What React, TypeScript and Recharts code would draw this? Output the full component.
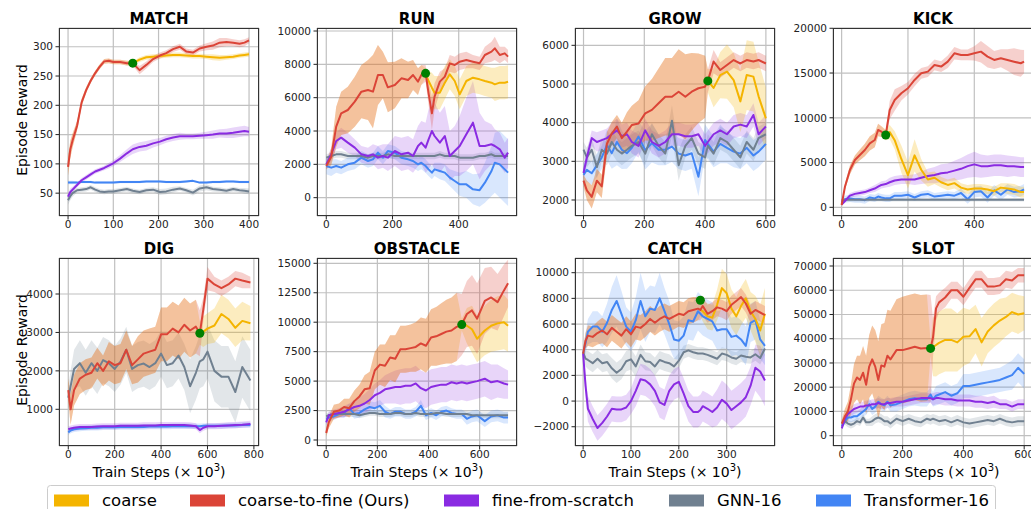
import React from "react";
import { ComposedChart, Line, Area, XAxis, YAxis, CartesianGrid, ReferenceDot } from "recharts";

const C_COARSE = "#F4B400";
const C_C2F = "#DB4437";
const C_FFS = "#8A2BE2";
const C_GNN = "#708090";
const C_TF = "#4285F4";
const C_SWITCH = "#008000";

const SERIES_NAMES = ["coarse", "coarse-to-fine (Ours)", "fine-from-scratch", "GNN-16", "Transformer-16"];
const SERIES_COLORS = [C_COARSE, C_C2F, C_FFS, C_GNN, C_TF];
const X_LABEL = "Train Steps (\u00d7 10";
const Y_LABEL = "Episode Reward";

// ---------------- MATCH ----------------
const MATCH_X = [0,5,10,20,30,40,50,60,70,80,90,100,115,130,143,158,173,188,203,217,232,247,261,276,291,306,320,335,350,365,379,390,400];
const MATCH_C2F = [95,125,140,165,205,226,242,255,266,275,276,274,274,272,272,260,269,279,285,289,296,300,292,290,297,300,302,307,308,307,305,307,311];
const MATCH_C2F_SD = [15,15,12,8,6,5,4,4,4,4,4,4,4,4,4,7,6,5,5,5,5,5,5,5,5,6,7,8,7,6,6,6,5];
const MATCH_COARSE = [272,278,282,283,284,285,286,286,285,284,284,283,282,281,282,283,285,286,287];
const MATCH_COARSE_SD = [3,4,4,4,4,4,4,4,4,4,4,4,5,5,4,4,4,4,4];
const MATCH_FFS = [44,52,56,64,72,77,82,87,90,93,97,101,109,118,125,129,131,135,138,142,145,147,147,147,148,149,150,152,152,153,155,156,155];
const MATCH_FFS_SD = [6,6,5,4,4,4,4,4,4,4,5,5,6,7,8,8,8,7,6,6,6,6,5,5,5,6,7,7,8,9,9,9,8];
const MATCH_GNN = [38,45,50,55,56,57,60,56,53,52,53,53,55,57,54,52,55,56,52,53,56,58,55,51,58,60,57,56,54,57,55,54,53];
const MATCH_GNN_SD = [8,7,6,4,4,4,4,4,4,4,4,4,4,4,4,4,4,4,5,5,5,4,4,5,5,5,4,4,4,4,4,5,5];
const MATCH_TF = [68,68,68,68,69,69,69,68,68,68,68,68,69,69,69,69,70,70,70,69,69,69,70,71,68,68,69,69,70,70,69,69,69];
const MATCH_TF_SD = [3,3,3,2,2,2,2,2,2,2,2,2,2,2,2,2,2,2,2,2,2,2,2,2,2,2,2,2,2,2,2,2,2];
const MATCH_SWITCH = [143, 272];
const MATCH_XTICKS = [0,100,200,300,400];
const MATCH_YTICKS = [50,100,150,200,250,300];

// ---------------- RUN ----------------
const RUN_X = [0,15,30,45,65,86,106,126,141,156,171,186,207,227,247,262,277,287,300,309,319,327,343,358,373,388,403,423,443,463,479,499,509,524,539,549];
const RUN_C2F = [1900,2460,4260,5060,5260,5760,6360,6460,6360,7360,7360,6620,6760,7160,7060,7360,6960,7360,7460,6260,5060,6060,6960,7260,8060,7960,8160,8260,8160,8060,8560,8760,8960,8560,8660,8460];
const RUN_C2F_SD = [200,500,1200,1300,1400,1500,1600,1800,2200,1800,1400,1500,1400,1200,1100,900,800,600,500,700,1000,800,600,500,500,500,500,500,400,400,500,600,700,500,400,400];
const RUN_COARSE = [7460,7000,6600,6300,6300,6900,7400,7000,6200,7000,7200,7100,7000,6900,6800,6900,6900,6950];
const RUN_COARSE_SD = [300,600,900,1000,1000,1000,900,900,900,900,900,900,900,900,1000,1000,1000,1000];
const RUN_FFS = [2000,2600,3400,3600,3300,3000,2600,2500,2600,2400,2500,2400,2800,2600,2700,2500,3100,3300,3000,3500,4000,3700,3300,3700,2500,2800,3100,3800,4500,3100,3100,3200,3100,2900,2400,2700];
const RUN_FFS_SD = [300,400,500,600,600,500,500,500,600,700,700,800,900,1000,1000,1000,1200,1300,1500,1800,2000,2000,1800,1800,1500,1500,1800,2200,2500,2000,1500,1200,1000,1000,900,900];
const RUN_GNN = [2400,2500,2600,2600,2500,2500,2500,2400,2500,2500,2500,2600,2500,2500,2500,2500,2500,2500,2500,2500,2500,2500,2600,2500,2500,2500,2400,2400,2400,2500,2500,2600,2500,2500,2500,2500];
const RUN_GNN_SD = [200,200,200,200,200,200,200,200,200,200,200,200,200,200,200,200,200,200,200,200,200,200,200,200,200,200,200,200,200,200,200,200,200,200,200,200];
const RUN_TF = [1900,1800,1900,1800,2000,2100,2400,2200,2300,2700,2400,2800,2700,2400,2300,2200,2000,2100,1900,1700,1500,1700,1600,1500,1200,1000,800,800,500,450,900,1600,2100,2000,1700,1500];
const RUN_TF_SD = [500,500,400,400,400,400,400,400,400,400,400,400,400,400,400,400,400,400,400,400,400,400,500,500,500,600,700,800,900,1000,1200,1500,1800,2000,2000,2000];
const RUN_SWITCH = [300, 7460];
const RUN_XTICKS = [0,200,400];
const RUN_YTICKS = [0,2000,4000,6000,8000,10000];

// ---------------- GROW ----------------
const GROW_X = [0,11,27,44,60,77,93,110,126,143,159,181,203,225,247,269,291,313,335,356,378,400,409,428,450,472,494,516,537,559,576,600];
const GROW_C2F = [2500,2250,2080,2500,2350,3450,3720,3900,3600,3770,3940,3980,4240,4330,4500,4670,4670,4800,4670,4800,4890,4930,5080,5580,5360,5490,5620,5530,5620,5580,5620,5530];
const GROW_C2F_SD = [150,250,300,300,300,300,300,300,400,500,500,600,700,800,900,1000,1000,1100,1100,1000,900,800,300,300,200,200,200,200,200,200,200,200];
const GROW_COARSE = [5080,4900,5230,5320,5100,4550,5230,5190,4680,4110];
const GROW_COARSE_SD = [300,500,600,700,700,800,900,900,900,800];
const GROW_FFS = [2700,3100,3600,3500,3550,3600,3700,3800,3650,3700,3500,3400,3800,3500,3400,3500,3700,3700,3650,3650,3700,3400,3500,3700,3800,3700,3900,3950,3900,4200,3700,3900];
const GROW_FFS_SD = [150,200,200,250,250,250,300,300,300,300,300,300,300,300,300,300,300,300,300,300,300,300,300,300,300,300,300,300,300,300,300,300];
const GROW_GNN = [3300,3100,3300,2850,3300,3200,3500,3300,3200,3300,3400,3500,3200,3700,3400,3200,4050,2900,3400,3600,3200,3100,3400,3200,3600,3500,3300,3100,3500,3300,3600,3700];
const GROW_GNN_SD = [200,250,300,300,300,300,300,300,300,300,300,300,300,300,300,300,400,400,300,300,300,300,300,300,300,300,300,300,300,300,300,300];
const GROW_TF = [2650,2780,2690,2900,3100,3420,3210,3500,3300,3210,3350,3640,3290,3470,3300,3300,3380,3200,3150,3210,2600,3550,3450,3250,3450,3350,3250,3200,3350,3150,3250,3450];
const GROW_TF_SD = [300,300,300,300,300,400,400,600,500,400,400,400,500,500,400,400,400,400,400,400,500,400,400,400,500,400,400,400,400,400,400,400];
const GROW_SWITCH = [409, 5080];
const GROW_XTICKS = [0,200,400,600];
const GROW_YTICKS = [2000,3000,4000,5000,6000];

// ---------------- KICK ----------------
const KICK_X = [0,10,25,40,55,70,85,100,110,120,133,145,160,180,200,220,240,260,280,300,320,340,360,380,400,420,440,460,480,500,520,540,550];
const KICK_C2F = [260,2300,4170,5290,5850,6400,7150,7520,8640,8450,8080,10870,11990,12740,13300,14230,14970,15160,15900,15720,16270,17200,17020,17020,17200,17390,16830,16460,16650,16460,16270,16090,16270];
const KICK_C2F_SD = [200,300,500,500,600,700,800,800,700,600,500,1000,1200,800,700,700,600,600,600,600,700,700,600,600,800,1200,1200,1000,1000,1200,1500,1500,1300];
const KICK_COARSE = [8080,8400,7500,5400,3600,5800,4200,3100,3300,2800,2500,2700,2200,2000,2100,2100,2000,1800,2200,2100,2000,1700,1700];
const KICK_COARSE_SD = [600,800,1000,1500,1500,1800,1200,800,700,600,600,600,500,500,500,500,500,500,500,600,600,600,600];
const KICK_FFS = [300,700,1300,1500,1600,1700,1900,2100,2300,2500,2600,2800,3000,3100,3100,3100,3300,3500,3600,3800,3900,4100,4300,4600,4800,4600,4600,4700,4700,4600,4600,4500,4500];
const KICK_FFS_SD = [100,200,300,300,300,300,300,400,400,400,400,500,500,500,500,600,700,800,900,1000,1000,1100,1200,1300,1400,1300,1200,1200,1200,1200,1100,1100,1100];
const KICK_GNN = [800,850,850,850,850,850,850,850,850,850,850,850,850,850,850,850,850,850,850,850,850,850,850,850,850,850,850,850,850,850,850,850,850];
const KICK_GNN_SD = [200,200,200,200,200,200,200,200,200,200,200,200,200,200,200,200,200,200,200,200,200,200,200,200,200,200,200,200,200,200,200,200,200];
const KICK_TF = [600,900,1000,900,900,800,1100,1000,1200,1100,1000,1000,1300,1300,1400,1100,1400,1500,1200,1300,1400,1300,1600,900,1700,1800,1100,1900,1400,2000,1700,1800,2000];
const KICK_TF_SD = [300,400,400,400,400,400,400,400,400,400,400,400,400,400,400,400,400,400,400,400,400,400,500,500,600,600,600,600,600,600,600,600,600];
const KICK_SWITCH = [133, 8080];
const KICK_XTICKS = [0,200,400];
const KICK_YTICKS = [0,5000,10000,15000,20000];

// ---------------- DIG ----------------
const DIG_X = [0,10,25,50,75,100,125,150,175,200,225,250,275,300,325,350,375,400,425,450,475,500,525,550,567,582,600,630,660,690,720,750,785];
const DIG_C2F = [1500,1000,1500,1800,1900,1950,2200,2000,2250,2150,2200,2550,2150,2300,2450,2500,2550,2950,2950,3100,3000,3200,3050,3150,2980,3600,4400,4250,4150,4250,4400,4350,4300];
const DIG_C2F_SD = [300,400,400,400,400,400,400,400,500,500,500,500,500,600,600,600,600,700,700,700,700,700,700,700,600,300,300,200,200,200,200,200,150];
const DIG_COARSE = [2980,3020,3100,3180,3480,3350,3120,3300,3240];
const DIG_COARSE_SD = [300,400,400,450,500,500,500,500,450];
const DIG_FFS = [480,500,520,540,540,540,550,560,560,560,570,570,570,570,580,580,580,590,590,590,590,590,580,560,460,520,560,560,570,580,590,600,620];
const DIG_FFS_SD = [80,80,80,80,80,80,80,80,80,80,80,80,80,80,80,80,80,80,80,80,80,80,80,80,80,80,80,80,80,80,80,80,80];
const DIG_GNN = [1300,1600,2050,2200,1950,2200,2000,2280,2200,2050,2240,2550,2050,2150,2190,2100,2200,2450,2150,2200,2400,2100,1600,1950,2250,2300,2500,2000,1850,1850,1450,2100,1750];
const DIG_GNN_SD = [300,400,500,600,600,600,600,600,600,600,600,600,600,600,600,600,600,600,600,600,600,600,700,700,700,700,700,800,800,800,800,800,800];
const DIG_TF = [400,450,480,500,510,520,520,530,530,530,540,540,540,540,540,550,550,550,550,560,560,560,560,560,560,570,570,570,570,580,580,590,590];
const DIG_TF_SD = [70,70,70,70,70,70,70,70,70,70,70,70,70,70,70,70,70,70,70,70,70,70,70,70,70,70,70,70,70,70,70,70,70];
const DIG_SWITCH = [567, 2980];
const DIG_XTICKS = [0,200,400,600,800];
const DIG_YTICKS = [1000,2000,3000,4000];

// ---------------- OBSTACLE ----------------
const OBST_X = [0,10,30,50,70,90,110,130,150,170,190,210,230,250,270,290,310,330,350,370,390,410,430,450,470,490,510,530,550,570,590,620,645,670,695,711];
const OBST_C2F = [600,1500,2400,2500,2800,2700,3300,3700,4300,4400,5900,6400,6300,7000,6900,7700,7700,7800,7900,8200,8000,8700,8800,9000,9200,9300,9600,9800,10700,11000,10300,11800,12100,11700,12700,13300];
const OBST_C2F_SD = [300,500,600,600,700,800,900,1000,1200,1400,1600,1700,1800,1900,2000,2000,2000,2000,2100,2200,2300,2400,2500,2600,2700,2800,2900,2600,2800,3000,3000,2800,2600,2400,2200,2000];
const OBST_COARSE = [9800,9700,9400,8600,9300,9700,9900,10000,9700];
const OBST_COARSE_SD = [500,1500,2000,2000,2100,2200,2300,2300,2200];
const OBST_FFS = [1500,2100,2200,2300,2400,2600,2800,2900,3100,3400,3800,4000,4300,4400,4500,4500,4600,4600,4800,4400,4200,4500,4600,4700,4700,4900,4800,4900,4800,4900,5000,5200,4900,5000,4800,4700];
const OBST_FFS_SD = [300,300,400,400,500,500,600,700,800,900,1000,1100,1200,1300,1400,1500,1500,1500,1500,1500,1500,1500,1500,1500,1500,1500,1500,1500,1500,1500,1500,1500,1500,1400,1300,1200];
const OBST_GNN = [2000,2100,2200,2200,2200,2200,2200,2100,2200,2300,2300,2200,2200,2200,2300,2300,2200,2200,2300,2200,2200,2200,2300,2300,2200,2200,2200,2200,2200,2100,2100,2100,2100,2100,2100,2100];
const OBST_GNN_SD = [250,250,250,250,250,250,250,250,250,250,250,250,250,250,250,250,250,250,250,250,250,250,250,250,250,250,250,250,250,250,250,250,250,250,250,250];
const OBST_TF = [1800,1900,2000,2200,2300,2700,2200,2300,2600,2800,2700,2900,2400,2200,2400,2400,2200,2200,2400,2900,2100,2300,2100,2400,2500,2300,2200,2200,1800,2000,2100,1600,2000,2100,1900,1900];
const OBST_TF_SD = [300,300,300,300,400,400,400,400,500,500,500,500,500,400,400,400,400,400,400,500,400,400,400,400,400,400,400,400,500,500,500,500,500,500,500,500];
const OBST_SWITCH = [530, 9800];
const OBST_XTICKS = [0,200,400,600];
const OBST_YTICKS = [0,2500,5000,7500,10000,12500,15000];

// ---------------- CATCH ----------------
const CATCH_X = [0,5,10,20,30,40,50,60,70,80,90,100,110,120,130,140,150,160,170,180,190,200,210,220,230,240,245,250,260,270,280,290,300,310,320,330,340,350,360,370,380];
const CATCH_C2F = [3700,4700,5100,5000,5300,5500,5200,5700,5400,5100,5600,5200,5800,5700,6000,6400,6100,6400,6600,6400,6600,6800,6700,7000,7100,7200,7100,7400,6800,7000,7300,7200,7000,7500,7800,8100,7600,6800,7100,6900,6700];
const CATCH_C2F_SD = [400,600,800,800,900,1000,1000,1000,1000,1000,1000,1000,1000,1000,1000,1000,1000,1000,1000,1000,1000,1000,1000,1000,1000,900,800,800,700,700,700,700,700,700,700,700,700,700,700,700,700];
const CATCH_COARSE = [7100,7000,6600,6500,7500,8800,8400,7200,6600,7400,8000,7000,6400,5500,6800];
const CATCH_COARSE_SD = [500,800,1000,1000,1200,1500,1500,1500,1500,1500,1500,1500,1800,2000,2000];
const CATCH_FFS = [3700,1200,-600,-1400,-2100,-1700,-1200,-600,-650,-650,-500,0,800,1700,1600,1300,800,-100,-300,800,1300,1500,600,-400,-850,-850,-700,-400,-600,-850,-500,100,-200,-700,-400,-100,300,1200,2600,2300,1600];
const CATCH_FFS_SD = [300,800,1000,1000,1000,1000,1000,1000,1000,1000,1000,1000,1200,1200,1200,1200,1200,1200,1200,1200,1200,1200,1200,1200,1200,1200,1200,1200,1200,1200,1400,1500,1500,1500,1500,1500,1500,1500,1800,2000,2000];
const CATCH_GNN = [3800,3300,3200,2950,3300,2950,3050,2550,2200,2500,3100,3250,2700,3600,3100,3050,2700,3200,3050,2950,2700,3150,3800,3950,3800,3700,3700,3700,3600,3450,3300,3700,3600,3400,3300,3550,3450,3400,3650,3350,4100];
const CATCH_GNN_SD = [400,600,700,700,700,700,700,800,800,800,800,800,800,800,700,700,700,700,700,700,600,600,500,500,500,500,500,500,500,500,500,500,500,500,500,500,500,500,500,500,500];
const CATCH_TF = [3700,4500,5400,5800,5800,5400,6100,7100,7800,6800,5800,5400,6300,7800,6600,7200,7100,8000,7000,6000,4800,4700,5100,6300,6200,7000,6800,6600,6400,6200,5500,5600,5600,5000,5100,4800,4300,6100,6300,4800,4300];
const CATCH_TF_SD = [400,800,1000,1200,1200,1200,1500,1800,2000,1800,1500,1500,1800,2200,2000,1800,1800,2000,1800,1800,1500,1500,1500,1500,1500,1500,1500,1500,1500,1500,1500,1500,1500,1500,1500,1500,1500,1500,1500,1500,1500];
const CATCH_SWITCH = [245, 7850];
const CATCH_XTICKS = [0,100,200,300];
const CATCH_YTICKS = [-2000,0,2000,4000,6000,8000,10000];

// ---------------- SLOT ----------------
const SLOT_X = [0,10,20,30,40,50,60,70,80,90,100,110,120,130,140,150,160,180,200,220,240,260,280,292,300,310,320,340,360,380,400,420,440,460,480,500,520,540,560,580,600];
const SLOT_C2F = [5000,8000,10000,15000,21500,24000,23000,26000,21000,28500,31500,28500,23000,29000,28500,33000,31500,35300,35300,36000,36700,36000,36200,36000,40500,52500,55000,57000,60000,60000,57300,61000,64500,64500,61500,61500,62000,64500,64000,66200,66200];
const SLOT_C2F_SD = [1500,3000,4000,6000,8000,9000,10000,11000,12000,13000,14000,15000,16000,17000,18000,19000,20000,21000,22000,22000,22000,22000,22000,22000,8000,5000,4000,4000,3500,3500,3500,3500,3500,3500,3500,3500,3500,3500,3500,3000,3000];
const SLOT_COARSE = [36000,36500,37400,38300,39500,39500,38500,40800,41000,44000,38500,43000,45500,47500,49000,51000,50000,50500];
const SLOT_COARSE_SD = [3000,12000,13000,13000,13000,13000,12000,12000,11000,10000,10000,9000,9000,9000,8000,8000,8000,7000];
const SLOT_FFS = [3000,7000,9000,10000,11000,11500,12000,12000,12500,12500,13000,13000,13500,13000,13000,13500,13500,14000,14000,14500,15000,15500,15500,15500,15000,15500,15500,15000,15000,14500,14500,14500,14000,14000,13500,14000,13000,13000,12000,13000,13000];
const SLOT_FFS_SD = [500,1500,2000,2000,2000,2000,2000,2000,2000,2000,2000,2000,2000,2000,2000,2000,2000,2000,2000,2000,2000,2000,2000,2000,2500,2500,2500,2500,2500,2500,2500,2500,2500,2500,2500,2500,2000,2000,2000,2000,2000];
const SLOT_GNN = [5000,6000,5000,4500,5000,6000,5500,7500,5500,5500,6000,7000,7500,7000,6000,6000,5000,7000,6000,7000,6000,5500,7000,6500,7000,6500,6000,6500,5500,6500,5500,5000,5500,6000,6500,6000,7000,6000,5500,6000,6000];
const SLOT_GNN_SD = [1000,1500,1500,1500,1500,1500,1500,1500,1500,1500,2000,2000,2000,2000,2000,2000,2000,2000,2000,2000,2000,2000,2000,2000,2000,2000,2000,2000,2000,2000,2000,2000,2000,2000,2000,2000,2000,2000,2000,2000,2000];
const SLOT_TF = [4000,6000,7500,7500,8000,8000,9000,10000,11000,13000,11000,12000,14000,13000,12500,14000,12500,13000,14000,15000,15500,15000,15000,17000,15000,16500,17000,18000,16500,17500,20500,20500,21000,21500,22000,22500,23000,24000,25000,28000,25500];
const SLOT_TF_SD = [1000,1500,2000,2000,2000,2000,2000,2000,2500,2500,2500,2500,2500,2500,2500,2500,2500,3000,3000,3000,3000,3000,3000,3000,3000,4000,4000,4000,4000,4000,5000,5000,5000,5000,5000,5000,5000,5500,6000,6000,6000];
const SLOT_SWITCH = [292, 36000];
const SLOT_XTICKS = [0,200,400,600];
const SLOT_YTICKS = [0,10000,20000,30000,40000,50000,60000,70000];

type Panel = {
  title: string;
  x: number[];
  c2f: number[]; c2fSd: number[];
  coarse: number[]; coarseSd: number[];
  ffs: number[]; ffsSd: number[];
  gnn: number[]; gnnSd: number[];
  tf: number[]; tfSd: number[];
  sw: number[];
  xTicks: number[]; yTicks: number[];
  xDomain: [number, number]; yDomain: [number, number];
};

const PANELS: Panel[] = [
  { title: "MATCH", x: MATCH_X, c2f: MATCH_C2F, c2fSd: MATCH_C2F_SD, coarse: MATCH_COARSE, coarseSd: MATCH_COARSE_SD, ffs: MATCH_FFS, ffsSd: MATCH_FFS_SD, gnn: MATCH_GNN, gnnSd: MATCH_GNN_SD, tf: MATCH_TF, tfSd: MATCH_TF_SD, sw: MATCH_SWITCH, xTicks: MATCH_XTICKS, yTicks: MATCH_YTICKS, xDomain: [-20, 422], yDomain: [11, 332] },
  { title: "RUN", x: RUN_X, c2f: RUN_C2F, c2fSd: RUN_C2F_SD, coarse: RUN_COARSE, coarseSd: RUN_COARSE_SD, ffs: RUN_FFS, ffsSd: RUN_FFS_SD, gnn: RUN_GNN, gnnSd: RUN_GNN_SD, tf: RUN_TF, tfSd: RUN_TF_SD, sw: RUN_SWITCH, xTicks: RUN_XTICKS, yTicks: RUN_YTICKS, xDomain: [-28, 576], yDomain: [-1100, 10180] },
  { title: "GROW", x: GROW_X, c2f: GROW_C2F, c2fSd: GROW_C2F_SD, coarse: GROW_COARSE, coarseSd: GROW_COARSE_SD, ffs: GROW_FFS, ffsSd: GROW_FFS_SD, gnn: GROW_GNN, gnnSd: GROW_GNN_SD, tf: GROW_TF, tfSd: GROW_TF_SD, sw: GROW_SWITCH, xTicks: GROW_XTICKS, yTicks: GROW_YTICKS, xDomain: [-28, 630], yDomain: [1586, 6448] },
  { title: "KICK", x: KICK_X, c2f: KICK_C2F, c2fSd: KICK_C2F_SD, coarse: KICK_COARSE, coarseSd: KICK_COARSE_SD, ffs: KICK_FFS, ffsSd: KICK_FFS_SD, gnn: KICK_GNN, gnnSd: KICK_GNN_SD, tf: KICK_TF, tfSd: KICK_TF_SD, sw: KICK_SWITCH, xTicks: KICK_XTICKS, yTicks: KICK_YTICKS, xDomain: [-26, 577], yDomain: [-970, 20030] },
  { title: "DIG", x: DIG_X, c2f: DIG_C2F, c2fSd: DIG_C2F_SD, coarse: DIG_COARSE, coarseSd: DIG_COARSE_SD, ffs: DIG_FFS, ffsSd: DIG_FFS_SD, gnn: DIG_GNN, gnnSd: DIG_GNN_SD, tf: DIG_TF, tfSd: DIG_TF_SD, sw: DIG_SWITCH, xTicks: DIG_XTICKS, yTicks: DIG_YTICKS, xDomain: [-40, 822], yDomain: [45, 4937] },
  { title: "OBSTACLE", x: OBST_X, c2f: OBST_C2F, c2fSd: OBST_C2F_SD, coarse: OBST_COARSE, coarseSd: OBST_COARSE_SD, ffs: OBST_FFS, ffsSd: OBST_FFS_SD, gnn: OBST_GNN, gnnSd: OBST_GNN_SD, tf: OBST_TF, tfSd: OBST_TF_SD, sw: OBST_SWITCH, xTicks: OBST_XTICKS, yTicks: OBST_YTICKS, xDomain: [-36, 746], yDomain: [-509, 15450] },
  { title: "CATCH", x: CATCH_X, c2f: CATCH_C2F, c2fSd: CATCH_C2F_SD, coarse: CATCH_COARSE, coarseSd: CATCH_COARSE_SD, ffs: CATCH_FFS, ffsSd: CATCH_FFS_SD, gnn: CATCH_GNN, gnnSd: CATCH_GNN_SD, tf: CATCH_TF, tfSd: CATCH_TF_SD, sw: CATCH_SWITCH, xTicks: CATCH_XTICKS, yTicks: CATCH_YTICKS, xDomain: [-17, 401], yDomain: [-3500, 11145] },
  { title: "SLOT", x: SLOT_X, c2f: SLOT_C2F, c2fSd: SLOT_C2F_SD, coarse: SLOT_COARSE, coarseSd: SLOT_COARSE_SD, ffs: SLOT_FFS, ffsSd: SLOT_FFS_SD, gnn: SLOT_GNN, gnnSd: SLOT_GNN_SD, tf: SLOT_TF, tfSd: SLOT_TF_SD, sw: SLOT_SWITCH, xTicks: SLOT_XTICKS, yTicks: SLOT_YTICKS, xDomain: [-29, 629], yDomain: [-4250, 73300] },
];

const PW = 200;
const PH = 188;
const COL_LEFT = [59, 317, 575, 833];
const ROW_TOP = [28, 258];
const ML = 56;
const MT = 6;
const MR = 8;
const XH = 24;
const FONT = "'DejaVu Sans', Verdana, sans-serif";

function band(m: number, s: number): [number, number] {
  return [m - s, m + s];
}

function buildRows(p: Panel) {
  const off = p.x.length - p.coarse.length;
  return p.x.map((x, i) => {
    const ci = i - off;
    const hasCoarse = ci >= 0;
    return {
      x,
      c2f: p.c2f[i],
      c2fBand: band(p.c2f[i], p.c2fSd[i]),
      coarse: hasCoarse ? p.coarse[ci] : null,
      coarseBand: hasCoarse ? band(p.coarse[ci], p.coarseSd[ci]) : band(p.c2f[i], p.c2fSd[i]),
      ffs: p.ffs[i],
      ffsBand: band(p.ffs[i], p.ffsSd[i]),
      gnn: p.gnn[i],
      gnnBand: band(p.gnn[i], p.gnnSd[i]),
      tf: p.tf[i],
      tfBand: band(p.tf[i], p.tfSd[i]),
    };
  });
}

const fmt = (v: number) => (v < 0 ? "\u2212" + Math.abs(v) : String(v));

function PanelChart({ p, idx }: { p: Panel; idx: number }) {
  const col = idx % 4;
  const row = Math.floor(idx / 4);
  const left = COL_LEFT[col];
  const top = ROW_TOP[row];
  const data = buildRows(p);
  const W = ML + PW + MR;
  const H = MT + PH + XH;
  const tickStyle = { fontSize: 10.5, fill: "#222", fontFamily: FONT };
  const bandProps = { stroke: "none", isAnimationActive: false, dot: false, activeDot: false, connectNulls: false } as any;
  const lineProps = { strokeWidth: 2, dot: false, activeDot: false, isAnimationActive: false, connectNulls: false, strokeLinejoin: "round" } as any;
  return (
    <div style={{ position: "absolute", left: left - ML, top: top - MT, width: W, height: H }}>
      <ComposedChart width={W} height={H} data={data} margin={{ top: MT, right: MR, bottom: 0, left: 0 }}>
        <XAxis dataKey="x" type="number" domain={p.xDomain} ticks={p.xTicks} allowDataOverflow height={XH}
          axisLine={false} tickLine={{ stroke: "#222" }} tickSize={3.5} tickMargin={1} tick={tickStyle} interval={0} />
        <YAxis type="number" domain={p.yDomain} ticks={p.yTicks} allowDataOverflow width={ML}
          axisLine={false} tickLine={{ stroke: "#222" }} tickSize={3.5} tickMargin={2.5} tick={tickStyle} interval={0} tickFormatter={fmt} />
        <Area dataKey="gnnBand" fill={C_GNN} fillOpacity={0.2} {...bandProps} />
        <Area dataKey="tfBand" fill={C_TF} fillOpacity={0.2} {...bandProps} />
        <Area dataKey="ffsBand" fill={C_FFS} fillOpacity={0.2} {...bandProps} />
        <Area dataKey="coarseBand" fill={C_COARSE} fillOpacity={0.25} {...bandProps} />
        <Area dataKey="c2fBand" fill={C_C2F} fillOpacity={0.25} {...bandProps} />
        <CartesianGrid stroke="#c0c0c0" strokeWidth={1.2} />
        <Line dataKey="tf" stroke={C_TF} {...lineProps} />
        <Line dataKey="gnn" stroke={C_GNN} {...lineProps} />
        <Line dataKey="ffs" stroke={C_FFS} {...lineProps} />
        <Line dataKey="coarse" stroke={C_COARSE} {...lineProps} />
        <Line dataKey="c2f" stroke={C_C2F} {...lineProps} />
        <ReferenceDot x={p.sw[0]} y={p.sw[1]} r={4.5} fill={C_SWITCH} stroke="none" />
      </ComposedChart>
      <div style={{ position: "absolute", left: ML, top: MT, width: PW, height: PH, border: "1px solid #333", boxSizing: "border-box", pointerEvents: "none" }} />
    </div>
  );
}

const LEGEND_SWATCH_X = [54, 190, 444, 669, 816];
const LEGEND_TEXT_X = [102, 238, 492, 717, 864];

export default function App() {
  return (
    <div style={{ position: "fixed", left: 0, top: 0, width: 1031, height: 509, overflow: "hidden", background: "#fff", fontFamily: FONT }}>
      {PANELS.map((p, i) => (
        <PanelChart key={p.title} p={p} idx={i} />
      ))}
      <svg width={1031} height={509} style={{ position: "absolute", left: 0, top: 0, pointerEvents: "none", fontFamily: FONT }}>
        {PANELS.map((p, i) => (
          <text key={"t" + i} x={COL_LEFT[i % 4] + PW / 2} y={ROW_TOP[Math.floor(i / 4)] - 4} textAnchor="middle" fontWeight="bold" fontSize={15} fill="#000">
            {p.title}
          </text>
        ))}
        {ROW_TOP.map((t, r) => (
          <text key={"yl" + r} transform={`translate(27, ${t + PH / 2 - 2}) rotate(-90)`} textAnchor="middle" fontSize={14} fill="#000">
            {Y_LABEL}
          </text>
        ))}
        {COL_LEFT.map((l, c) => (
          <text key={"xl" + c} x={l + PW / 2} y={ROW_TOP[1] + PH + 31} textAnchor="middle" fontSize={14} fill="#000">
            {X_LABEL}
            <tspan dy={-6} fontSize={10}>3</tspan>
            <tspan dy={6}>)</tspan>
          </text>
        ))}
        <rect x={47.5} y={485.5} width={948} height={40} rx={3} fill="#fff" fillOpacity={0.8} stroke="#cccccc" />
        {SERIES_NAMES.map((n, i) => (
          <g key={"lg" + i}>
            <rect x={LEGEND_SWATCH_X[i]} y={494.5} width={35} height={12} fill={SERIES_COLORS[i]} />
            <text x={LEGEND_TEXT_X[i]} y={506} fontSize={16.5} fill="#000">{n}</text>
          </g>
        ))}
      </svg>
    </div>
  );
}
